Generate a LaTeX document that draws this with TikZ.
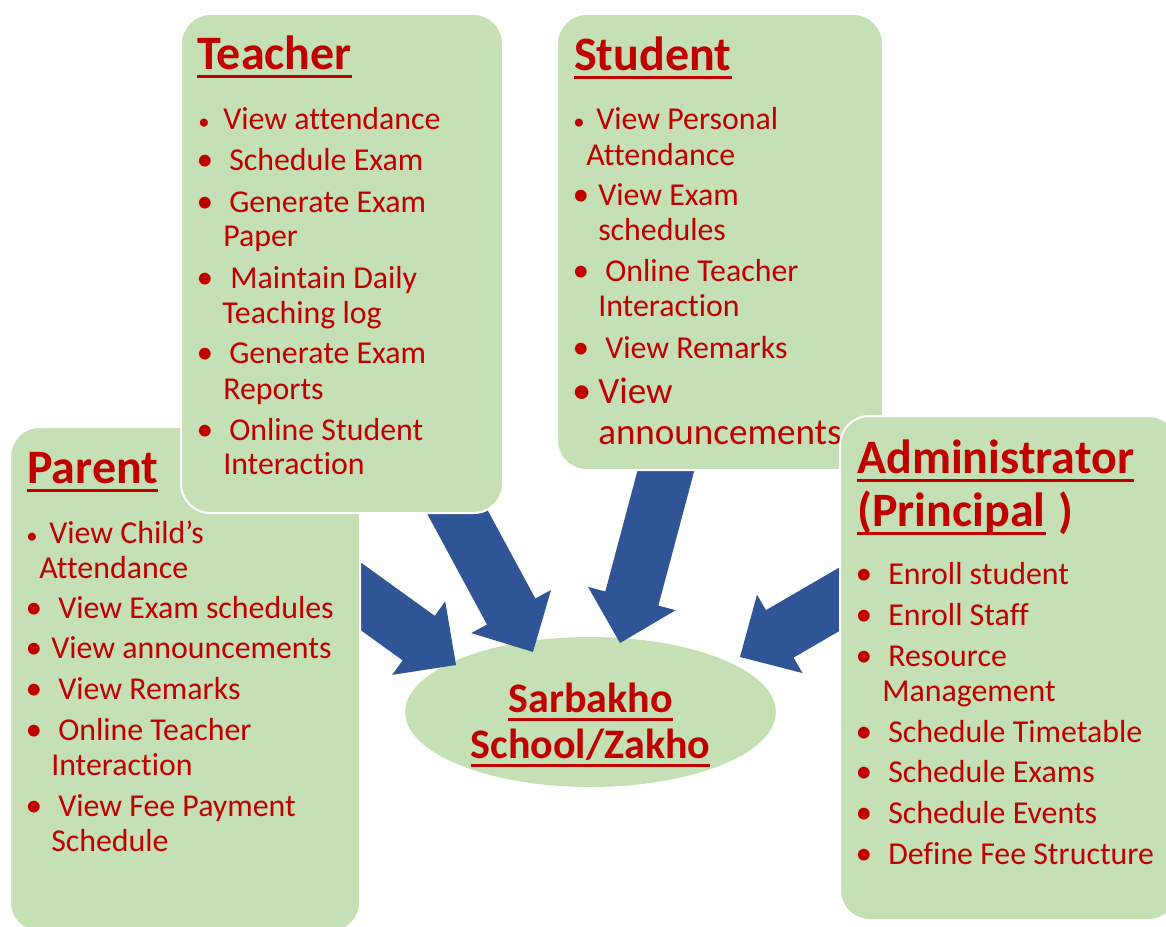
\documentclass[tikz,border=0pt]{standalone}
\usepackage{fontspec}
\setmainfont{Carlito}[Ligatures=NoCommon]
\usetikzlibrary{calc,shapes.geometric,fit}
\definecolor{tred}{HTML}{C00000}
\definecolor{boxgreen}{HTML}{C5E0B4}
\definecolor{arrowblue}{HTML}{2F5597}
\newcommand\bodyfont{\fontsize{23.9}{26}\selectfont}
\newcommand\titlefont{\fontsize{36}{40}\selectfont\bfseries}
\tikzset{
  rolebox/.style={fill=boxgreen, draw=white, line width=1.5pt, rounded corners=22pt, inner sep=0pt},
  hub/.style={ellipse, fill=boxgreen, inner sep=0pt, minimum width=278pt, minimum height=112.5pt},
  txt/.style={text=tred, font=\bodyfont, inner sep=0pt, anchor=base west, yshift=-1.2pt},
  bigtxt/.style={text=tred, font=\fontsize{27.8}{30}\selectfont, inner sep=0pt, anchor=base west, yshift=-1.2pt},
  ttl/.style={text=tred, font=\titlefont, inner sep=0pt, anchor=base west, yshift=-1pt},
  hubtxt/.style={text=tred, font=\fontsize{31.5}{34}\selectfont\bfseries, inner sep=0pt, anchor=base},
  bulnorm/.style={text=tred, font=\fontsize{25}{26}\selectfont, inner sep=0pt, anchor=base, yshift=-1.2pt},
  bulsmall/.style={text=tred, font=\fontsize{17}{18}\selectfont, inner sep=0pt, anchor=base, yshift=-1.2pt},
  bulbig/.style={text=tred, font=\fontsize{29}{30}\selectfont, inner sep=0pt, anchor=base, yshift=-1.2pt},
  uline/.style={draw=tred, line width=2.2pt},
  flow/.style={fill=arrowblue},
}
% underline under a named text node
\newcommand\ulnode[1]{\draw[uline] ([yshift=-5.4pt]#1.base west) -- ([yshift=-5.4pt]#1.base east);}
% block arrow from tail coordinate #1 to tip coordinate #2
\newcommand\blockarrow[2]{%
  \coordinate (#1-hb) at ($(#2)!34.5pt!(#1)$);
  \fill[flow] ($(#1)!20.6pt!90:(#2)$) -- ($(#1-hb)!20.6pt!90:(#2)$) -- ($(#1-hb)!34pt!90:(#2)$)
     -- (#2) -- ($(#1-hb)!34pt!-90:(#2)$) -- ($(#1-hb)!20.6pt!-90:(#2)$) -- ($(#1)!20.6pt!-90:(#2)$) -- cycle;}
\begin{document}
\begin{tikzpicture}[x=0.75pt, y=-0.75pt]
\useasboundingbox (0,0) rectangle (1166,927);

% central hub
\node[hub] (school) at (590.5,712) {};

% arrow tails (hidden under boxes) and tips
\coordinate (pa) at (330.6,574.6);  \coordinate (pa-tip) at (456,665);
\coordinate (ta) at (439.5,478.8);  \coordinate (ta-tip) at (533,652);
\coordinate (sa) at (675.8,433.4);  \coordinate (sa-tip) at (620,643);
\coordinate (aa) at (872.6,579.9);  \coordinate (aa-tip) at (740,657);
\blockarrow{pa}{pa-tip}
\blockarrow{ta}{ta-tip}
\blockarrow{sa}{sa-tip}
\blockarrow{aa}{aa-tip}

\node[hubtxt] (h1) at (590.5,712) {Sarbakho};
\node[hubtxt] (h2) at (590.5,758) {School/Zakho};
\ulnode{h1}\ulnode{h2}

% ---------------- Parent
\node[rolebox, fit={(10,427) (360,932)}] (parent) {};
\node[ttl] (pt) at (27,482) {Parent}; \ulnode{pt}
\node[bulsmall] (pb1) at (32,542) {•};
\node[txt] (p1) at (49,542) {View Child’s};
\node[txt] (p1b) at (39,577) {Attendance};
\node[bulnorm] (pb2) at (34,617) {•};
\node[txt] (p2) at (58,617) {View Exam schedules};
\node[bulnorm] (pb3) at (34,657) {•};
\node[txt] (p3) at (51,657) {View announcements};
\node[bulnorm] (pb4) at (34,698) {•};
\node[txt] (p4) at (58,698) {View Remarks};
\node[bulnorm] (pb5) at (34,739) {•};
\node[txt] (p5) at (58,739) {Online Teacher};
\node[txt] (p5b) at (51,774) {Interaction};
\node[bulnorm] (pb6) at (34,815) {•};
\node[txt] (p6) at (58,815) {View Fee Payment};
\node[txt] (p6b) at (51,850) {Schedule};

% ---------------- Teacher
\node[rolebox, fit={(181,14) (503,513)}] (teacher) {};
\node[ttl] (tt) at (197,68) {Teacher}; \ulnode{tt}
\node[bulsmall] (tb1) at (204,128) {•};
\node[txt] (t1) at (223,128) {View attendance};
\node[bulnorm] (tb2) at (205,169) {•};
\node[txt] (t2) at (229,169) {Schedule Exam};
\node[bulnorm] (tb3) at (205,211) {•};
\node[txt] (t3) at (229,211) {Generate Exam};
\node[txt] (t3b) at (223,245) {Paper};
\node[bulnorm] (tb4) at (205,287) {•};
\node[txt] (t4) at (230,287) {Maintain Daily};
\node[txt] (t4b) at (222,322) {Teaching log};
\node[bulnorm] (tb5) at (205,362) {•};
\node[txt] (t5) at (229,362) {Generate Exam};
\node[txt] (t5b) at (223,398) {Reports};
\node[bulnorm] (tb6) at (205,439) {•};
\node[txt] (t6) at (229,439) {Online Student};
\node[txt] (t6b) at (223,473) {Interaction};

% ---------------- Student
\node[rolebox, fit={(557,14) (883,470)}] (student) {};
\node[ttl] (st) at (574,69) {Student}; \ulnode{st}
\node[bulsmall] (sb1) at (579,128) {•};
\node[txt] (s1) at (596,128) {View Personal};
\node[txt] (s1b) at (586,164) {Attendance};
\node[bulnorm] (sb2) at (581,204) {•};
\node[txt] (s2) at (598,204) {View Exam};
\node[txt] (s2b) at (598,239) {schedules};
\node[bulnorm] (sb3) at (581,280) {•};
\node[txt] (s3) at (605,280) {Online Teacher};
\node[txt] (s3b) at (598,315) {Interaction};
\node[bulnorm] (sb4) at (581,357) {•};
\node[txt] (s4) at (605,357) {View Remarks};
\node[bulbig] (sb5) at (582,402) {•};
\node[bigtxt] (s5) at (598,402) {View};
\node[bigtxt] (s5b) at (598,443) {announcements};

% ---------------- Administrator
\node[rolebox, fit={(840,416) (1178,920)}] (admin) {};
\node[ttl] (at1) at (857,472) {Administrator}; \ulnode{at1}
\node[ttl] (at2) at (857,525) {(Principal}; \ulnode{at2}
\node[ttl, anchor=base west] (at3) at ([xshift=9pt]at2.base east) {)};
\node[bulnorm] (ab1) at (864,583) {•};
\node[txt] (a1) at (888,583) {Enroll student};
\node[bulnorm] (ab2) at (864,624) {•};
\node[txt] (a2) at (888,624) {Enroll Staff};
\node[bulnorm] (ab3) at (864,665) {•};
\node[txt] (a3) at (888,665) {Resource};
\node[txt] (a3b) at (882,700) {Management};
\node[bulnorm] (ab4) at (864,741) {•};
\node[txt] (a4) at (888,741) {Schedule Timetable};
\node[bulnorm] (ab5) at (864,781) {•};
\node[txt] (a5) at (888,781) {Schedule Exams};
\node[bulnorm] (ab6) at (864,822) {•};
\node[txt] (a6) at (888,822) {Schedule Events};
\node[bulnorm] (ab7) at (864,863) {•};
\node[txt] (a7) at (888,863) {Define Fee Structure};
\end{tikzpicture}
\end{document}
